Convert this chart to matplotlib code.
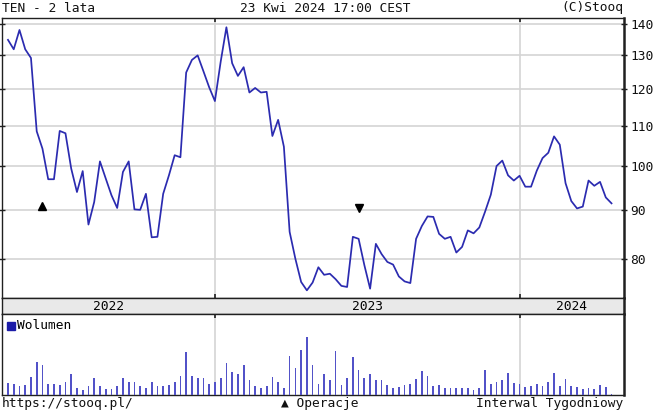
import numpy as np
import matplotlib
matplotlib.use("Agg")
import matplotlib.pyplot as plt
from matplotlib.ticker import FixedLocator, FixedFormatter, NullLocator

plt.rcParams['font.family'] = ['DejaVu Sans Mono', 'DejaVu Sans']
plt.rcParams['font.size'] = 9.3

# ---- data (weekly bars) ----
price = [134.9, 131.9, 138.1, 131.9, 129.2, 108.5, 104.1, 96.8, 96.8, 108.6,
         108.0, 99.3, 93.9, 98.7, 86.9, 91.7, 101.0, 97.0, 93.2, 90.4,
         98.5, 101.0, 90.1, 90.0, 93.5, 84.3, 84.4, 93.5, 97.7, 102.5,
         102.0, 124.8, 128.6, 130.0, 125.2, 120.5, 116.6, 128.0, 139.0, 127.6,
         123.8, 126.4, 119.0, 120.3, 119.0, 119.2, 107.3, 111.5, 104.6, 85.4,
         80.1, 75.8, 74.3, 75.7, 78.5, 77.1, 77.3, 76.3, 75.1, 74.9,
         84.4, 84.0, 78.9, 74.6, 83.0, 81.0, 79.5, 79.0, 76.8, 75.9,
         75.6, 84.0, 86.6, 88.6, 88.5, 85.0, 84.0, 84.4, 81.3, 82.4,
         85.7, 85.1, 86.3, 89.6, 93.3, 99.9, 101.2, 97.7, 96.5, 97.6,
         95.1, 95.1, 98.8, 101.8, 103.1, 107.2, 105.1, 95.9, 91.9, 90.3,
         90.7, 96.5, 95.3, 96.2, 92.7, 91.4]

volume = [36, 34, 26, 30, 54, 100, 90, 32, 32, 30,
          40, 64, 20, 14, 28, 50, 26, 18, 18, 28,
          50, 40, 40, 28, 22, 40, 28, 26, 30, 40,
          58, 130, 58, 50, 50, 32, 38, 50, 96, 70,
          64, 90, 44, 26, 22, 26, 54, 40, 22, 118,
          82, 136, 174, 90, 34, 64, 44, 132, 30, 50,
          114, 76, 52, 62, 44, 44, 30, 22, 24, 30,
          32, 48, 72, 58, 28, 30, 20, 20, 20, 20,
          20, 16, 20, 76, 32, 40, 44, 66, 36, 32,
          24, 26, 32, 28, 40, 66, 26, 48, 26, 24,
          18, 20, 18, 30, 24, 4]

year_labels = ['2022', '2023', '2024']
year_start_idx = [36, 89]          # first weekly bar of 2023 and 2024
price_ticks = [80, 90, 100, 110, 120, 130, 140]
buy_idx, buy_level = [6], [90.8]
sell_idx, sell_level = [61], [90.4]

W, H = 654, 412
fig = plt.figure(figsize=(W / 100, H / 100), dpi=100)

def box(l, t, r, b):
    return [l / W, 1 - b / H, (r - l) / W, (b - t) / H]

x = np.arange(len(price))
xlim = (-1.04, 107.17)
line_c = '#2b2bb0'
grid_c = '#d4d4d4'
spine_c = '#202020'

# ---- price panel ----
ax = fig.add_axes(box(2, 18, 624, 298))
ax.set_yscale('log')
ax.plot(x, price, color=line_c, lw=1.25, zorder=3)
ax.plot(buy_idx, buy_level, marker='^', color='black', ms=6, ls='none', zorder=4)
ax.plot(sell_idx, sell_level, marker='v', color='black', ms=6, ls='none', zorder=4)
ax.set_xlim(*xlim)
ax.set_ylim(72.96, 142.1)
ax.yaxis.set_major_locator(FixedLocator(price_ticks))
ax.yaxis.set_major_formatter(FixedFormatter([str(t) for t in price_ticks]))
ax.yaxis.set_minor_locator(NullLocator())
ax.yaxis.tick_right()
ax.tick_params(axis='y', which='major', right=True, left=True, direction='inout',
               length=5, width=1, pad=2, colors=spine_c, labelcolor='#111111')
ax.set_xticks(year_start_idx)
ax.set_xticklabels([])
ax.tick_params(axis='x', top=True, bottom=True, direction='in', length=3,
               width=1.2, colors=spine_c)
ax.grid(True, axis='both', color=grid_c, lw=1.2, zorder=0)
for s in ax.spines.values():
    s.set_color(spine_c)
    s.set_linewidth(1.0)
ax.spines['right'].set_linewidth(1.8)

# ---- year band ----
band = fig.add_axes(box(2, 298, 624, 314))
band.set_facecolor('#e9e9e9')
band.set_xlim(*xlim)
band.set_ylim(0, 1)
band.set_xticks([])
band.set_yticks([])
edges = [xlim[0]] + year_start_idx + [xlim[1]]
for i, lab in enumerate(year_labels):
    band.text((edges[i] + edges[i + 1]) / 2, 0.45, lab, ha='center', va='center',
              fontsize=9.3, color='black')
for s in band.spines.values():
    s.set_color(spine_c)
    s.set_linewidth(1.0)
band.spines['right'].set_linewidth(1.8)

# ---- volume panel ----
axv = fig.add_axes(box(2, 314, 624, 395))
axv.bar(x, volume, width=0.3, color='#5252c8', zorder=3)
axv.set_xlim(*xlim)
axv.set_ylim(0, 243)
axv.set_yticks([])
axv.set_xticks(year_start_idx)
axv.set_xticklabels([])
axv.tick_params(axis='x', top=True, bottom=False, direction='in', length=3,
                width=1.2, colors=spine_c)
axv.grid(True, axis='x', color=grid_c, lw=1.2, zorder=0)
for s in axv.spines.values():
    s.set_color(spine_c)
    s.set_linewidth(1.0)
axv.spines['right'].set_linewidth(1.8)
axv.add_patch(plt.Rectangle((0.0075, 0.805), 0.013, 0.1, transform=axv.transAxes,
                            color='#1c1ca8', zorder=5))
axv.text(0.024, 0.855, 'Wolumen', transform=axv.transAxes, ha='left', va='center',
         fontsize=9.3, color='black')

# ---- header / footer texts ----
fig.text(2 / W, 1 - 8 / H, 'TEN - 2 lata', ha='left', va='center', color='#111111')
fig.text(325 / W, 1 - 8 / H, '23 Kwi 2024 17:00 CEST', ha='center', va='center', color='#111111')
fig.text(623 / W, 1 - 8 / H, '(C)Stooq', ha='right', va='center', color='#111111')
fig.text(2 / W, 1 - 404 / H, 'https://stooq.pl/', ha='left', va='center', color='#111111')
fig.text(320 / W, 1 - 404 / H, '\u25b2 Operacje', ha='center', va='center', color='#111111')
fig.text(623 / W, 1 - 404 / H, 'Interwal Tygodniowy', ha='right', va='center', color='#111111')

fig.savefig('out.png', dpi=100, facecolor='white')
